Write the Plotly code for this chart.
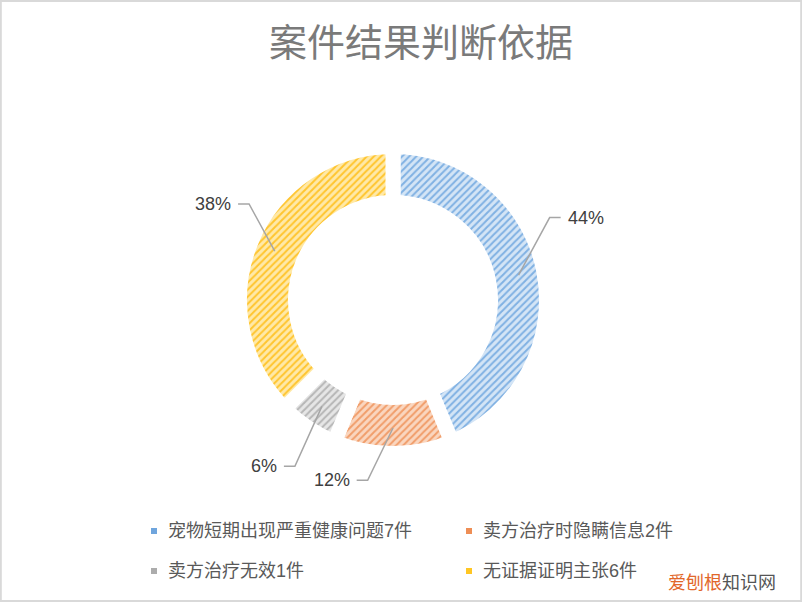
import math
import plotly.graph_objects as go

# ---------------- data ----------------
categories = ["宠物短期出现严重健康问题7件", "卖方治疗时隐瞒信息2件", "卖方治疗无效1件", "无证据证明主张6件"]
counts = [7, 2, 1, 6]
title_text = "案件结果判断依据"

# ---------------- style ----------------
base_colors = ["#6FA5DD", "#EE8E55", "#ACACAC", "#FFC623"]
fg_colors = ["#80B1E3", "#F19D6A", "#B6B6B6", "#FFC52E"]
bg_colors = ["#D4E5F6", "#FAD6BF", "#E6E6E6", "#FFE9A8"]

W, H = 802, 602
CX, CY = 393, 300          # ring centre (px)
R_VIS, R_IN_VIS = 146, 105  # visible outer / inner radius (px)
GAP = 15                   # white separator width (px)
R_PL = R_VIS + GAP / 2
HOLE = (R_IN_VIS - GAP / 2) / R_PL

# leader-line layout (label nudges, like the original's label placement)
label_angle_nudge = [-16.5, 8.0, -3.2, 11.2]
label_radius = [177, 182, 193, 173]
LEADER_START_R = 128
TAIL = 11

def px2paper(x, y):
    return x / W, 1 - y / H

fig = go.Figure()
fig.add_trace(go.Pie(
    labels=categories,
    values=counts,
    sort=False,
    direction="clockwise",
    rotation=0,
    hole=HOLE,
    textinfo="none",
    hoverinfo="label+value+percent",
    showlegend=False,
    marker=dict(
        colors=base_colors,
        line=dict(color="white", width=GAP),
        pattern=dict(shape="/", fgcolor=fg_colors, bgcolor=bg_colors,
                     size=5, solidity=0.4, fillmode="replace"),
    ),
    domain=dict(x=[(CX - R_PL) / W, (CX + R_PL) / W],
                y=[1 - (CY + R_PL) / H, 1 - (CY - R_PL) / H]),
))

shapes = []
annotations = []
total = sum(counts)
cum = 0
for i, v in enumerate(counts):
    mid = (cum + v / 2) / total * 360
    cum += v
    pct = f"{round(v / total * 100)}%"
    a0 = math.radians(mid)
    sx, sy = CX + LEADER_START_R * math.sin(a0), CY - LEADER_START_R * math.cos(a0)
    a1 = math.radians(mid + label_angle_nudge[i])
    ex, ey = CX + label_radius[i] * math.sin(a1), CY - label_radius[i] * math.cos(a1)
    side = 1 if math.sin(a1) >= 0 else -1
    tx = ex + side * TAIL
    pts = [px2paper(sx, sy), px2paper(ex, ey), px2paper(tx, ey)]
    path = "M {} {} L {} {} L {} {}".format(pts[0][0], pts[0][1], pts[1][0], pts[1][1], pts[2][0], pts[2][1])
    shapes.append(dict(type="path", xref="paper", yref="paper", path=path,
                       line=dict(color="#A6A6A6", width=1.5)))
    lx, ly = px2paper(tx + side * 5, ey)
    annotations.append(dict(x=lx, y=ly, xref="paper", yref="paper", text=pct,
                            showarrow=False, xanchor="left" if side > 0 else "right",
                            yanchor="middle",
                            font=dict(family="Liberation Sans, Arial, sans-serif", size=18, color="#404040")))

# manual legend (two columns)
legend_cols = [154, 469]
legend_rows = [531, 571]
for i, name in enumerate(categories):
    lx = legend_cols[i % 2]
    ly = legend_rows[i // 2]
    x0, y0 = px2paper(lx - 3, ly - 3)
    x1, y1 = px2paper(lx + 3, ly + 3)
    shapes.append(dict(type="rect", xref="paper", yref="paper", x0=x0, x1=x1, y0=y1, y1=y0,
                       fillcolor=base_colors[i], line=dict(width=0)))
    tx, ty = px2paper(lx + 12, ly)
    annotations.append(dict(x=tx, y=ty, xref="paper", yref="paper", text=name,
                            showarrow=False, xanchor="left", yanchor="middle",
                            font=dict(family="Liberation Sans, Noto Sans CJK SC, sans-serif",
                                      size=18, color="#595959")))

# watermark
wx, wy = px2paper(778, 581)
annotations.append(dict(x=wx, y=wy, xref="paper", yref="paper",
                        text='<span style="color:#E2672A">爱刨根</span><span style="color:#555555">知识网</span>',
                        showarrow=False, xanchor="right", yanchor="middle",
                        font=dict(family="Noto Sans CJK SC", size=18)))

# outer frame
shapes.append(dict(type="rect", xref="paper", yref="paper", x0=0.001, x1=0.999, y0=0.0015, y1=0.9985,
                   line=dict(color="#D9D9D9", width=2)))

tx, ty = px2paper(421, 43)
fig.update_layout(
    width=W, height=H,
    margin=dict(l=0, r=0, t=0, b=0),
    paper_bgcolor="white",
    plot_bgcolor="white",
    title=dict(text=title_text, x=tx, y=ty, xanchor="center", yanchor="middle",
               font=dict(family="Noto Sans CJK SC", size=38, color="#7A7A7A")),
    shapes=shapes,
    annotations=annotations,
)

fig.write_html("out.html", config={"displayModeBar": False},
               post_script="document.body.style.margin='0';document.body.style.overflow='hidden';")
